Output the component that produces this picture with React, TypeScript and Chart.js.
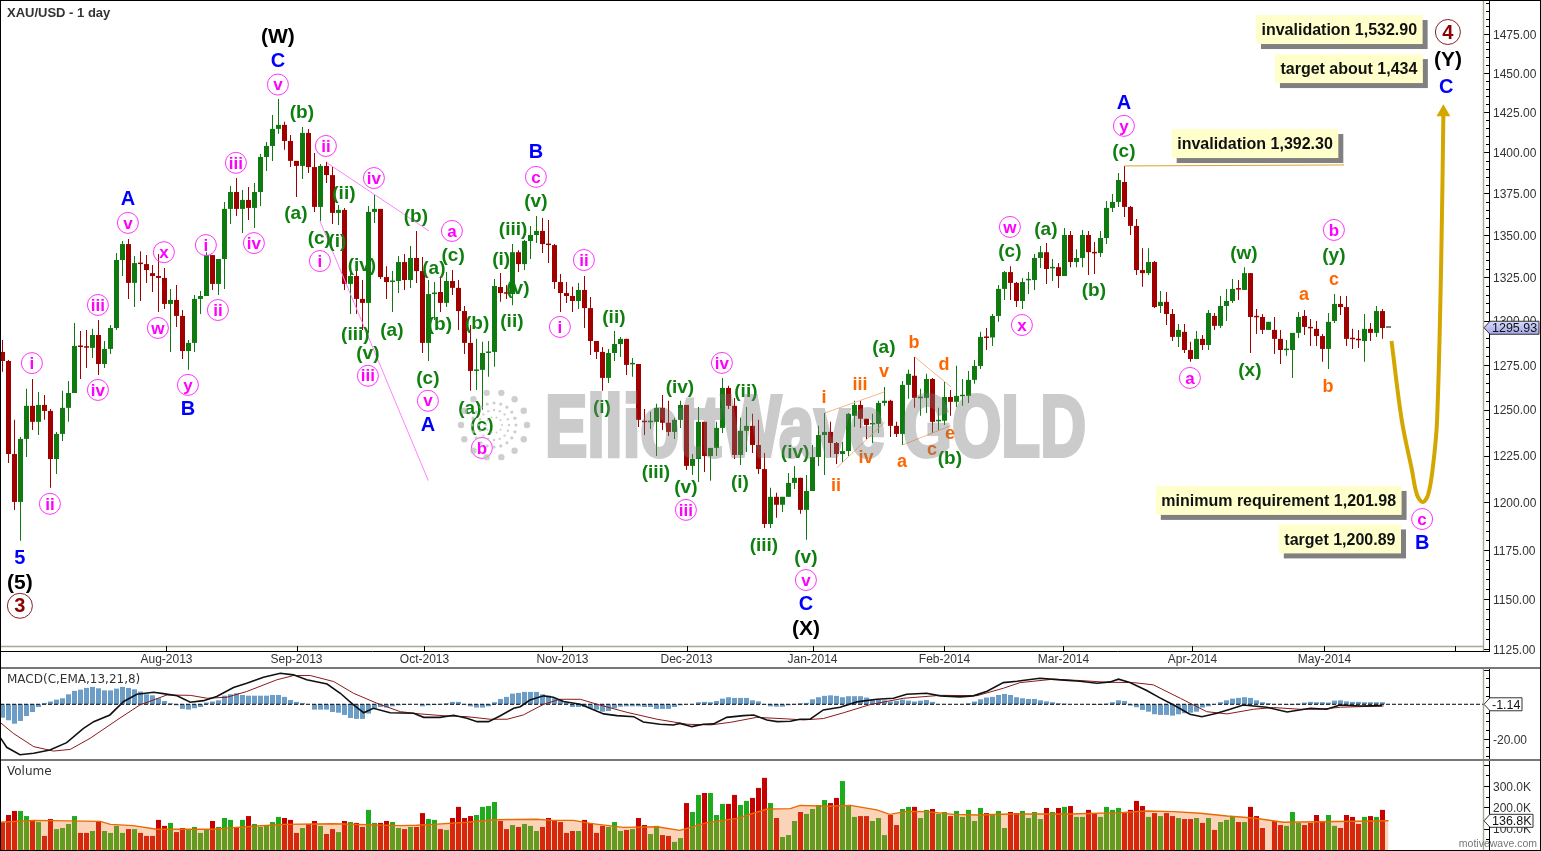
import React, { useEffect, useRef } from "react";
import { Chart, registerables } from "chart.js";

Chart.register(...registerables);

// ---- Price data (XAU/USD daily) ----
const opens = [
  1282.2,1277.1,1225.8,1200.2,1234,1252.1,1243.3,1252.6,1249.3,1223.1,
  1236.7,1251,1259.2,1285.6,1285,1284.5,1291.8,1275.4,1283.9,1295.8,
  1335.2,1344.6,1321.8,1333.4,1332.8,1327.5,1325.8,1324.7,1309.6,1311.9,
  1302.7,1282.7,1287.3,1312.5,1314.2,1338.1,1321.2,1335.8,1365.6,1375.8,
  1365.6,1371,1366.2,1375.8,1397.2,1404,1414.6,1417.1,1407.1,1394.8,
  1391.7,1412.1,1391,1366.8,1391.7,1386.1,1363.2,1365,1321.2,1325.8,
  1312.5,1310.2,1363.8,1365.6,1325.2,1322.3,1322.9,1334,1323.5,1336.4,
  1328.7,1287.3,1315.3,1316.5,1310.2,1322.9,1318.9,1305.5,1287.3,1271.5,
  1272.1,1281.6,1282.2,1319.4,1315.9,1315.3,1339.8,1332.8,1346.4,1350,
  1352.4,1344.6,1344,1322.3,1315.9,1314.2,1311.3,1317.7,1307.2,1288.4,
  1282.2,1267.6,1281.6,1286.7,1289.6,1275.2,1275.4,1243.5,1243.1,1243.3,
  1251,1242.8,1237.8,1244.4,1252.6,1219.4,1223.1,1243.3,1224.7,1229.1,
  1240,1262,1252.1,1225.3,1238.4,1241.1,1230.7,1217.7,1188.6,1202.9,
  1198.7,1202.9,1210.3,1213,1196,1206,1224.2,1236.1,1237.8,1231.8,
  1225.8,1227.4,1246.6,1252.6,1245,1241.9,1242.2,1253.7,1254.9,1241.1,
  1236.7,1263.7,1268.8,1256.3,1256.5,1267,1243.6,1243.9,1257,1254.3,
  1257.4,1257.6,1266.5,1274.3,1290.7,1290.4,1302.7,1318.3,1328.1,1321.8,
  1311.3,1323.3,1323.5,1336.4,1339.8,1330.3,1331,1325.8,1350,1334,
  1336.4,1350,1339.5,1339.3,1348.2,1366.2,1369.8,1381.9,1366.8,1355.4,
  1329.3,1327.5,1334,1308.4,1310.8,1303.8,1290.7,1293.6,1283.3,1278.2,
  1289.6,1286.1,1302.7,1297,1308.4,1311.3,1318.3,1317.7,1327.5,1302.3,
  1302.1,1294.7,1294.7,1289.6,1283.2,1283.3,1293,1302.7,1296,1295.3,
  1291.2,1283.9,1299.8,1309.6,1307.8,1289.8,1289.2,1288.4,1295.3,1293,
  1305.5,1295.93,
];
const closes = [
  1277.1,1225.8,1200.2,1234,1252.1,1243.3,1252.6,1249.3,1223.1,1236.7,
  1251,1259.2,1285.6,1285,1284.6,1291.8,1275.4,1283.9,1295.8,1335.2,
  1344.6,1321.8,1333.4,1332.8,1329.3,1325.8,1324.7,1309.6,1311.9,1302.7,
  1282.7,1287.3,1312.5,1314.2,1338.1,1321.2,1335.8,1365.6,1375.8,1365.6,
  1371,1366.2,1375.8,1397.2,1404,1414.6,1417.1,1407.1,1394.8,1391.7,
  1412.1,1391,1366.8,1391.7,1386.1,1363.2,1365,1321.2,1325.8,1312.5,
  1310.2,1363.8,1365.6,1325.2,1322.3,1322.9,1334,1323.5,1336.4,1328.7,
  1287.3,1315.3,1315.9,1310.2,1322.9,1318.9,1305.5,1287.3,1271.5,1272.1,
  1281.6,1282.2,1320,1315.9,1315.5,1339.8,1332.8,1346.4,1350,1352.4,
  1344.6,1344,1322.3,1315.9,1314.2,1311.3,1317.7,1307.2,1288.4,1282.2,
  1267.6,1281.6,1286.7,1289.6,1274.9,1275.6,1244.4,1243.1,1243.5,1251,
  1242.8,1237.8,1244.4,1252.6,1219.4,1223.1,1243.3,1224.7,1229.1,1240,
  1262,1252.1,1225.3,1238.4,1241.1,1230.7,1217.7,1188.6,1202.9,1198.7,
  1202.9,1210.3,1213,1196,1206,1224.2,1236.1,1237.8,1231.8,1225.8,
  1227.4,1247.7,1252.6,1245,1241.6,1242.3,1253.7,1254.9,1241.1,1236.7,
  1263.7,1269.9,1256.5,1256.7,1267,1243.3,1244,1257,1254.3,1257.6,
  1257.8,1266.5,1274.3,1290.7,1290.1,1302.7,1318.3,1328.1,1321.8,1311.3,
  1322.3,1323.7,1336.4,1339.8,1329.9,1330.7,1325.8,1350,1334,1336.4,
  1350,1339.8,1339.1,1348.2,1366.2,1369.8,1383.1,1366.8,1355.4,1329.3,
  1327.5,1334,1307.8,1310.8,1303.8,1290.7,1294.7,1283.3,1278.2,1289.6,
  1286.1,1304.4,1297,1308.4,1311.3,1318.3,1317.9,1327.5,1302.1,1301.9,
  1294.7,1299.3,1289.6,1283.3,1283.6,1293,1302.1,1296.4,1295.6,1291.2,
  1283.9,1299.3,1309.6,1307.8,1289.6,1289.4,1288.8,1295.3,1293,1305.5,
  1295.8,1295.93,
];
const highs = [
  1289,1277.7,1244.4,1235,1261.5,1267,1259.8,1258.1,1250.4,1237.8,
  1260.4,1265.9,1298.7,1294.1,1294.7,1295.3,1300.4,1288.4,1297.5,1339.3,
  1346.4,1347.6,1337.5,1340.4,1338.1,1332.2,1338.7,1330.5,1318.3,1320.6,
  1306.1,1289,1314.8,1317.1,1339.8,1338.1,1335.8,1369.8,1379.4,1384.3,
  1377,1378.8,1381.3,1399.1,1406.5,1423.3,1433.3,1419,1410.8,1394.8,
  1415.8,1414.6,1399.7,1392.9,1394.2,1391,1368,1366.2,1329.3,1328.7,
  1323.5,1367.4,1374,1365.6,1331.6,1328.7,1337.5,1338.7,1343.4,1352.4,
  1336.9,1323.5,1322.3,1325.2,1328.1,1329.3,1323.5,1308.4,1297.5,1289.6,
  1287.9,1288.4,1324.1,1327.5,1320.6,1344.6,1341,1347,1355.4,1361.4,
  1360.2,1359,1344.6,1327,1322.3,1319.5,1321.8,1325.8,1313.6,1288.4,
  1285,1283.9,1294.1,1290.7,1289.6,1278.8,1275.4,1250.4,1248.8,1253.2,
  1258.1,1254.9,1245.5,1254.9,1252.6,1225.8,1251.5,1243.3,1229.1,1243.3,
  1267.6,1263.2,1256.5,1245.5,1251.5,1247.7,1244.4,1226.4,1207.7,1205,
  1202.9,1215.6,1219.4,1213,1214.5,1230.7,1241.1,1248.2,1243.3,1232.3,
  1232.3,1248.2,1254.9,1254.9,1245,1247.7,1254.9,1262.6,1255.4,1243.3,
  1265.9,1272.1,1279.4,1261.5,1269.9,1267.6,1251,1265.9,1260.9,1274.4,
  1267,1271.5,1277.7,1293.6,1295.8,1303.8,1320.6,1328.7,1331.6,1322.3,
  1324.7,1328.1,1338.7,1343.4,1345.2,1335.8,1333.4,1354.2,1352.4,1341.6,
  1353,1352.4,1345.8,1352.4,1370.4,1374.6,1387.4,1391.7,1367.4,1359.6,
  1342.2,1342.2,1334.6,1317.1,1316.5,1306.7,1298.1,1298.1,1287.9,1294.1,
  1291.8,1306.1,1304.4,1314.2,1318.3,1324.1,1323.5,1331,1327.5,1306.7,
  1303.8,1299.3,1302.1,1294.7,1289,1293,1305,1306.1,1301,1299.8,
  1292.4,1304.4,1315.3,1314.2,1314.2,1295.3,1294.7,1303.8,1298.7,1308.4,
  1306.7,1295.93,
];
const lows = [
  1271,1221,1196,1179.8,1224.2,1238.9,1236.1,1244.4,1207.7,1215,
  1232.9,1243.3,1259.2,1267,1273.2,1278.8,1269.3,1273.2,1281,1294.7,
  1325.8,1312.5,1307.8,1311.3,1321.8,1316.5,1305,1306.7,1282.2,1296.4,
  1278.2,1272.1,1282.2,1303.8,1314.2,1317.7,1314.8,1318.3,1356.6,1361.4,
  1351.2,1359,1354.2,1367.4,1388.6,1394.8,1411.5,1401.6,1391,1372.8,
  1383.7,1387.4,1363.8,1358.4,1381.3,1356.6,1356,1317.7,1303.8,1303.8,
  1294.7,1293,1357.2,1324.1,1312.5,1305,1315.9,1317.7,1318.9,1321.8,
  1281.6,1277.1,1300.4,1305,1307.8,1314.8,1294.7,1281,1260.4,1260.9,
  1249.9,1268.2,1273.8,1310.8,1312.5,1308.9,1328.1,1329.3,1335.8,1345.2,
  1339.3,1333.4,1318.3,1305,1310.2,1305,1306.7,1295.8,1280.5,1278.2,
  1260.4,1264.8,1277.1,1279.4,1269.3,1268.2,1240.5,1236.1,1239.4,1224.7,
  1238.9,1235.6,1234,1240,1217.2,1214.5,1210.8,1216.1,1211.4,1224.7,
  1237.2,1250.4,1223.1,1219.9,1226.9,1226.4,1215,1186.5,1186.5,1191.8,
  1194.9,1202.9,1207.1,1193.9,1180.3,1206,1219.4,1214.5,1224.2,1220.4,
  1221.5,1224.7,1240.5,1240,1233.4,1231.8,1237.2,1252.1,1235,1235,
  1230.7,1256,1251,1246.6,1248.2,1237.2,1238.9,1241.6,1246.6,1251.5,
  1252.1,1253.7,1264.3,1272.6,1283.3,1285.6,1299.3,1311.9,1311.9,1307.8,
  1306.7,1315.3,1317.7,1330.5,1321.2,1322.9,1318.9,1325.8,1331,1331,
  1331,1326.4,1327,1336.9,1344.6,1363.8,1366.8,1360.8,1350,1326.4,
  1319.5,1326.4,1307.2,1304.4,1297.5,1288.4,1285,1281.6,1276.6,1278.2,
  1283.3,1283.3,1294.7,1295.8,1299.8,1310.2,1311.9,1317.7,1281.6,1292.4,
  1292.4,1294.7,1281,1275.4,1280,1267.6,1290.1,1291.8,1285.6,1285.6,
  1276.6,1272.6,1298.7,1303.2,1285.6,1283.9,1284.4,1276.6,1288.4,1290.7,
  1289.6,1295.93,
];

const monthIndex = [27.33, 49, 70.33, 93.33, 114, 135, 157, 176.83, 198.33, 220.33, 242];
const monthLabels = ["Aug-2013","Sep-2013","Oct-2013","Nov-2013","Dec-2013","Jan-2014","Feb-2014","Mar-2014","Apr-2014","May-2014",""];

// ---- MACD ----
const macdHist = [
  -7.8,-9.3,-11.3,-9.7,-6.8,-4.5,-1.6,0.8,1.6,2.7,
  3.5,5.8,7.8,8.5,9.5,10.1,9.3,8.1,8.1,9.1,
  10.1,9.5,8.7,7.4,5.8,5.2,3.5,1.9,0.6,-0.6,
  -2.7,-3.1,-2.3,-1.6,1,1.6,2.3,5,5.8,6.4,
  5.4,5,5,5,5,5.4,5.4,4.3,2.5,1.4,
  0.8,0,-3.1,-3.1,-3.1,-4.5,-4.9,-6.2,-8,-8.5,
  -8.5,-5.4,-2.3,-1.6,-1.9,-1.2,-0.6,-0.2,0,0,
  -1.2,-0.6,-0.4,0.2,0.6,1.4,1.4,0.2,-1.2,-1.9,
  -1.9,-1.2,1.2,3.1,4.3,6.2,6.6,7.2,7.2,7.2,
  5.8,5,3.5,2.7,1.2,-1.6,-1.6,-1.6,-2.3,-3.1,
  -4.3,-3.9,-2.3,-1.4,-1.2,-1.2,-1.2,-1.6,-1.6,-2.7,
  -2.7,-2.7,-1.6,-0.6,0,0,1.2,1.4,1.2,1.9,
  3.3,4.1,3.7,3.7,3.7,2.3,1.7,-0.2,-1.2,-1.4,
  -1.4,-0.6,0.2,0.6,0.8,2.9,4.1,4.9,5.2,4.9,
  4.1,4.7,4.7,4.7,3.9,2.9,2.7,2.3,1.6,1.9,
  2.7,2.1,1.6,2.1,2.5,1.4,0,0,0,0,
  0,0.6,1.6,2.9,3.9,4.3,5.4,6,5.4,4.1,
  3.5,3.1,3.1,2.3,1.7,1.2,0.6,0.4,0,0,
  0,0,-0.4,-0.4,0.4,1.2,2.3,1.9,-0.8,-1.7,
  -3.3,-4.3,-5.8,-6.2,-6.2,-6.6,-5.8,-5.2,-4.9,-4.3,
  -1.9,-1.2,0,1.2,2.3,3.3,3.7,4.1,3.7,2.3,
  1.2,0.6,0.2,0,-0.4,-0.4,0.4,1,1.4,1.2,
  1.2,1,2.1,2.3,1.7,1.4,1.4,1.2,1.2,1.2,
  1.2,
];
const macdIdx = [-0.4,0.7,2.9,5.2,7.9,10.7,13.5,15.2,17.9,20.2,22.4,25.2,26.8,29.1,31.3,33.5,35.7,38.5,40.7,43.5,46.3,48.5,50.7,54.1,56.3,58.5,60.2,61.8,64.6,68.5,70.2,72.9,75.2,77.4,79.1,81,82.9,85.2,86.3,87.9,90.2,91.8,93.5,96.3,97.9,100.2,102.4,105.2,106.8,109.6,111.8,112.9,114.9,116.8,118.5,120.7,123.5,125.2,127.4,129.1,131.3,132.9,134.6,136.8,139.6,142.4,145.7,148.5,150.7,154,156.3,159.6,161.8,164.1,166.8,169.1,170,172.9,176.3,179.6,182.4,184.6,186,187.9,190.7,192.9,195.2,197.9,199.9,202.4,204.6,206.8,210.7,214.1,218,220.7,222.9,226.3,229.9];
const macdVal = [-19.2,-25,-29.3,-28.5,-26.6,-22.3,-14,-10.1,-6.2,1.6,5.8,7,6.2,5,1.2,2.1,4.5,9.7,12.2,15.7,18,17.1,14.2,11.8,6.4,-0.4,-4.9,-2.3,-4.9,-5.2,-7.6,-7.6,-6.4,-8.1,-10.1,-10.1,-6.8,-2.3,-1.4,2.5,4.9,4.1,1.6,0,-2.3,-5.6,-6.6,-7.2,-10.3,-11.6,-12,-11.1,-13,-11.6,-11.4,-7.6,-6.6,-6.2,-9.1,-10.1,-9.9,-8.7,-8.7,-3.3,-1.7,1.4,2.9,3.5,5.8,6.4,4.9,4.3,4.9,7.6,12.6,13.4,13.8,15.1,14.2,13.4,12.2,13,14.6,12.6,8,3.7,-0.4,-5.8,-7.2,-5.2,-2.9,-0.4,-1.7,-4.5,-2.3,-2.9,-0.4,-1,-0.8];
const signalIdx = [-0.4,1.8,5.2,8.5,11.3,14.6,19.1,22.9,27.4,31.3,34.1,37.4,40.7,45.7,48.5,51.3,55.2,58.5,62.4,66.3,69.6,74.1,77.4,81.3,84.1,86.8,90.2,92.9,96.3,99.1,104.1,109.1,114.1,118,121.3,125.7,130.7,133.5,136.8,140.2,144.6,150.2,156.3,162.4,166.8,169.6,175.2,179.6,184.1,188.5,191.8,196.3,200.7,204.1,208.5,211.8,216.3,219.6,223,230.2];
const signalVal = [-10.5,-16.9,-24.6,-27.2,-26.2,-19.8,-9.1,-0.4,5.4,5.2,3.5,4.1,7.4,14.2,16.7,16.7,13.2,6.4,0.6,-4.3,-5.6,-6.8,-7.2,-8.7,-8.7,-6.2,0,2.9,2.9,0,-4.7,-8.7,-11.6,-12,-10.5,-7.6,-8.5,-9.1,-8.3,-4.9,-0.2,3.5,5.2,5,9.3,12.6,14.6,13.8,12.8,12.6,11.3,3.5,-4.3,-5.6,-2.9,-1.9,-2.9,-2.9,-1.7,-1];

// ---- Volume (thousands) ----
const volumes = [
  130,164,183,183,159,136,131,66,145,98,
  103,122,159,80,80,89,134,89,80,113,
  80,98,98,80,66,66,141,113,127,84,
  103,94,108,80,94,136,108,150,141,108,
  141,159,122,108,113,131,155,150,141,80,
  103,122,136,113,75,98,84,136,131,127,
  108,188,127,127,136,131,103,98,108,108,
  173,145,141,98,94,150,202,150,159,164,
  202,206,225,136,98,117,108,122,113,89,
  108,150,136,131,80,89,89,141,127,80,
  113,108,131,89,94,98,150,117,75,113,
  70,66,38,56,220,178,258,267,267,164,
  216,216,258,211,230,244,291,338,220,150,
  61,70,136,178,169,192,211,234,220,244,
  323,211,155,159,159,136,150,70,164,117,
  192,202,202,150,188,192,169,178,159,183,
  155,188,136,197,173,164,183,103,178,173,
  183,150,178,145,197,178,197,202,206,155,
  155,188,169,155,202,188,197,173,188,230,
  206,155,173,159,173,159,150,145,145,150,
  127,150,94,131,141,159,131,131,202,159,
  103,0,136,117,113,178,127,117,127,164,
  136,164,113,103,164,155,122,155,159,155,
  188,
];
const volMaIdx = [-0.4,5.2,16.3,18,21.8,25.7,35.2,38.5,41.8,46.8,55.2,66.3,69,71.8,77.4,81.8,89,91.8,95.2,97.9,103.5,109.1,112.9,117.4,122.4,127.4,131.3,132.9,137.4,141.3,145.7,147.9,150.7,154,158.5,162.4,168,177.9,186.3,190.7,195.2,199.6,204.1,208.5,213.5,231];
const volMaVal = [130,139,134,120,114,97,97,105,111,120,123,114,116,120,130,142,144,139,139,125,106,109,92,128,148,192,194,209,205,209,188,167,181,180,167,164,169,169,175,183,180,172,159,150,130,136.8];

// ---- Annotations: text, kind, bar index, price ----
const waveLabels: [string, string, number, number][] = [
  ["(W)","k",45.9,1473.7],["C","b",45.9,1458.2],["v","p",45.9,1442.5],
  ["A","b",20.9,1371.6],["v","p",20.9,1357.2],["x","p",26.9,1339.8],["iii","p",15.9,1309],["w","p",25.9,1295.8],
  ["i","p",33.9,1344],["ii","p",35.9,1306.1],["iii","p",38.9,1393.6],["iv","p",41.9,1345.2],
  ["(b)","g",49.9,1425.2],["ii","p",53.9,1404],["(a)","g",48.9,1363.2],["(ii)","g",56.9,1375.2],["iv","p",61.9,1384.3],
  ["(c)","g",52.8,1348.2],["(i)","g",55.8,1346.4],["i","p",52.9,1334.6],["(b)","g",68.9,1361.4],["a","p",74.9,1352.4],
  ["(c)","g",75.1,1338.1],["(a)","g",71.9,1330.5],["(iv)","g",59.9,1332.2],["(iii)","g",58.8,1292.4],["(a)","g",64.9,1294.7],
  ["(b)","g",72.9,1298.1],["(b)","g",79.1,1298.7],["(i)","g",83.1,1335.8],["(a)","g",77.9,1251],["(c)","g",79.9,1241.6],["b","p",79.9,1229.1],
  ["(c)","g",70.9,1267.6],["v","p",70.9,1254.9],["A","b",70.9,1241.6],["(v)","g",60.9,1281.6],["iii","p",60.9,1268.8],
  ["y","p",30.9,1263.7],["B","b",30.9,1250.4],["i","p",4.9,1275.9],["iv","p",15.9,1260.9],["ii","p",7.9,1199.2],
  ["5","b",2.9,1171.4],["(5)","k",2.9,1158.6],["3","m",2.9,1146.5],
  ["(ii)","g",84.9,1299.8],["(v)","g",85.9,1318.9],["(iii)","g",85.1,1353.6],["(v)","g",88.9,1370.4],["c","p",88.9,1385],["B","b",88.9,1400.4],
  ["ii","p",96.9,1335.2],["i","p",92.9,1296.4],["(ii)","g",101.9,1302.1],["(i)","g",99.9,1251.5],["iv","p",119.9,1276],
  ["(iv)","g",112.9,1262.6],["(ii)","g",123.9,1260.4],["(a)","g",146.9,1285],["b","o",151.9,1287.9],["v","o",146.9,1271.5],
  ["d","o",156.9,1275.4],["iii","o",142.9,1264.3],["i","o",136.9,1257],["(iii)","g",108.9,1216.1],["(v)","g",113.9,1208.2],["iii","p",113.9,1196],
  ["(i)","g",122.9,1210.8],["(iii)","g",126.9,1177.7],["(v)","g",133.9,1171.4],["v","p",133.9,1159.6],["C","b",133.9,1147.5],["(X)","k",133.9,1135.4],
  ["(iv)","g",132.1,1226.9],["ii","o",138.9,1209.2],["iv","o",143.9,1224.2],["a","o",149.9,1222],["c","o",154.9,1228.5],["e","o",157.9,1237.2],["(b)","g",157.9,1223.7],
  ["A","b",186.9,1431.4],["y","p",186.9,1416.5],["(c)","g",186.9,1401],["w","p",167.9,1354.8],["(c)","g",167.9,1340.4],["(a)","g",173.9,1353.6],
  ["(b)","g",181.9,1317.7],["x","p",169.9,1297.5],["a","p",197.9,1267.6],["(w)","g",206.9,1339.3],["(x)","g",207.9,1272.1],
  ["b","p",221.9,1353],["(y)","g",221.9,1338.1],["c","o",221.9,1324.1],["a","o",216.9,1315.3],["b","o",220.9,1263.2],
  ["4","m",240.9,1476.3],["(Y)","k",240.9,1458.8],["C","b",240.6,1441],["c","p",236.6,1191.2],["B","b",236.6,1178.7],
];
const callouts: [string, number, number][] = [
  ["invalidation 1,532.90",222.8,1477.9],
  ["target about 1,434",224.4,1452.7],
  ["invalidation 1,392.30",208.75,1405.5],
  ["minimum requirement 1,201.98",212.7,1201],
  ["target 1,200.89",222.9,1180.8],
];
const trendLines: [number, number, number, number, string][] = [
  [54.08,1393.6,71.08,1352.4,"#ff80ff"],
  [52.9,1358.4,70.97,1211.5,"#ff80ff"],
  [137.08,1248.2,146.97,1259.8,"#f8b48a"],
  [139.03,1218.3,147.08,1243.3,"#f8b48a"],
  [152.03,1279.4,158.08,1262.6,"#f8b48a"],
  [150.03,1230.7,158.03,1241.2,"#f8b48a"],
  [187,1391.7,223.6,1392.3,"#d8a520"],
];
const forecastIdx = [231.5,233.2,234.9,235.75,236.7,237.6,238.4,239.1,239.8,240.15];
const forecastVal = [1288.4,1244.4,1217.2,1204,1200,1204,1218.8,1244.4,1337.5,1425];
const lastClose = 1295.93;
const lastMacdText = "-1.14";
const lastVolText = "136.8K";
const lastVol = 136.8;

// ---- Layout constants ----
const SANS = '"Liberation Sans", Arial, sans-serif';
const WIDTH = 1541;
const AXIS_X = 1489;
const GRAY_X = 1483.5;
const X_MIN = -2.5 / 6;
const X_MAX = (AXIS_X - 2.5) / 6;
const PRICE_TOP = 1496.6;
const PRICE_BOTTOM = 1123.9;
const GREEN = "#0f7a0f";
const RED = "#a00000";
const styles: Record<string, { color: string; font: number; ring?: number }> = {
  p: { color: "#ff00ff", font: 17, ring: 10.5 },
  g: { color: "#0f7f0f", font: 19 },
  b: { color: "#0000ff", font: 20 },
  k: { color: "#000000", font: 21 },
  o: { color: "#ff6600", font: 18 },
  m: { color: "#8b0000", font: 20, ring: 12.5 },
};

const range = (start: number, stop: number, step: number) => {
  const out: number[] = [];
  for (let v = start; v <= stop; v += step) out.push(v);
  return out;
};
const pairs = (xs: number[], ys: number[]) => xs.map((x, i) => ({ x, y: ys[i] }));

function hiddenX() {
  return { type: "linear", min: X_MIN, max: X_MAX, offset: false, display: false, grid: { display: false, drawTicks: false } };
}
function yAxisBase(ticks: number[], label: (v: number) => string) {
  return {
    position: "right",
    grid: { display: false, drawTicks: false },
    border: { display: true, color: "#000", width: 1 },
    afterFit: (s: any) => { s.width = WIDTH - AXIS_X; s.paddingTop = 0; s.paddingBottom = 0; },
    afterBuildTicks: (s: any) => { s.ticks = ticks.map((value) => ({ value })); },
    ticks: { autoSkip: false, padding: 4, labelOffset: 1.5, color: "#333", font: { size: 12, family: SANS }, callback: (v: any) => label(Number(v)) },
  };
}
function drawYTicks(chart: any, isMajor: (v: number) => boolean) {
  const { ctx, chartArea, scales } = chart;
  ctx.save();
  ctx.strokeStyle = "#000";
  ctx.lineWidth = 1;
  ctx.beginPath();
  for (const t of scales.y.ticks) {
    const y = Math.round(scales.y.getPixelForValue(t.value)) + 0.5;
    ctx.moveTo(AXIS_X, y);
    ctx.lineTo(AXIS_X - (isMajor(t.value) ? 6 : 3), y);
  }
  ctx.stroke();
  ctx.strokeStyle = "#a8a898";
  ctx.lineWidth = 1.4;
  ctx.beginPath();
  ctx.moveTo(GRAY_X, chartArea.top);
  ctx.lineTo(GRAY_X, chartArea.bottom);
  ctx.stroke();
  ctx.restore();
}
function drawTag(ctx: any, y: number, right: number, text: string, fill: any) {
  const x0 = 1484;
  const h = 6.5;
  ctx.save();
  ctx.beginPath();
  ctx.moveTo(x0, y);
  ctx.lineTo(x0 + 6, y - h);
  ctx.lineTo(right, y - h);
  ctx.lineTo(right, y + h);
  ctx.lineTo(x0 + 6, y + h);
  ctx.closePath();
  ctx.fillStyle = fill;
  ctx.fill();
  ctx.strokeStyle = "#333";
  ctx.lineWidth = 1;
  ctx.stroke();
  ctx.fillStyle = "#111";
  ctx.font = `12.5px ${SANS}`;
  ctx.textAlign = "left";
  ctx.textBaseline = "middle";
  ctx.fillText(text, x0 + 8, y + 1);
  ctx.restore();
}
function drawWatermark(ctx: any) {
  const layer = document.createElement("canvas");
  layer.width = 700;
  layer.height = 120;
  const c = layer.getContext("2d") as any;
  c.font = `bold 88px ${SANS}`;
  c.textAlign = "left";
  c.textBaseline = "alphabetic";
  c.fillStyle = "#787878";
  c.strokeStyle = "#787878";
  c.lineWidth = 4;
  c.lineJoin = "miter";
  c.fillText("ElliottWave GOLD", 10, 90, 541);
  c.strokeText("ElliottWave GOLD", 10, 90, 541);
  ctx.save();
  ctx.globalAlpha = 0.38;
  ctx.drawImage(layer, 535, 366);
  ctx.globalAlpha = 1;
  const cx = 494;
  const cy = 425;
  const rings: [number, number, number][] = [[33, 14, 3.2], [22, 20, 1.6], [15, 16, 1.2], [8, 10, 1]];
  ctx.fillStyle = "rgba(190,190,190,0.75)";
  for (const [r, n, d] of rings) {
    for (let k = 0; k < n; k++) {
      const a = (k / n) * Math.PI * 2;
      ctx.beginPath();
      ctx.arc(cx + r * Math.cos(a), cy + r * Math.sin(a), d, 0, Math.PI * 2);
      ctx.fill();
    }
  }
  ctx.restore();
}

const pricePlugin = {
  id: "priceDecor",
  afterDatasetsDraw(chart: any) {
    const { ctx, scales } = chart;
    const sx = scales.x;
    const sy = scales.y;
    ctx.save();
    // axis furniture
    ctx.strokeStyle = "#a8a898";
    ctx.lineWidth = 1.4;
    ctx.beginPath();
    ctx.moveTo(0, 646.5);
    ctx.lineTo(GRAY_X, 646.5);
    ctx.stroke();
    ctx.strokeStyle = "#000";
    ctx.lineWidth = 1;
    ctx.beginPath();
    for (const m of monthIndex) {
      const x = Math.round(sx.getPixelForValue(m)) + 0.5;
      ctx.moveTo(x, 646);
      ctx.lineTo(x, 651);
    }
    ctx.stroke();
    ctx.restore();
    drawYTicks(chart, (v) => v % 25 === 0);
    ctx.save();
    // wave labels
    ctx.textAlign = "center";
    ctx.textBaseline = "middle";
    for (const [text, kind, bar, price] of waveLabels) {
      const st = styles[kind];
      const x = sx.getPixelForValue(bar);
      const y = sy.getPixelForValue(price);
      ctx.font = `bold ${st.font}px ${SANS}`;
      ctx.fillStyle = st.color;
      ctx.fillText(text, x, y + 1);
      if (st.ring) {
        ctx.beginPath();
        ctx.arc(x, y, st.ring, 0, Math.PI * 2);
        ctx.strokeStyle = kind === "p" ? "#ff33ff" : "#8b2020";
        ctx.lineWidth = 1;
        ctx.stroke();
      }
    }
    // yellow notes
    ctx.font = `bold 16px ${SANS}`;
    for (const [text, bar, price] of callouts) {
      const x = sx.getPixelForValue(bar);
      const y = sy.getPixelForValue(price);
      const w = ctx.measureText(text).width + 11;
      const h = 29;
      ctx.fillStyle = "#808080";
      ctx.fillRect(x - w / 2 + 5, y - h / 2 + 5, w, h);
      ctx.fillStyle = "#ffffcc";
      ctx.fillRect(x - w / 2, y - h / 2, w, h);
      ctx.fillStyle = "#111";
      ctx.fillText(text, x, y + 1.5);
    }
    ctx.restore();
    drawWatermark(ctx);
    // title and last-price tag
    ctx.save();
    ctx.font = `bold 13px ${SANS}`;
    ctx.fillStyle = "#333";
    ctx.textAlign = "left";
    ctx.textBaseline = "middle";
    ctx.fillText("XAU/USD - 1 day", 7, 13);
    ctx.restore();
    const grad = ctx.createLinearGradient(0, 322, 0, 336);
    grad.addColorStop(0, "#d4d8fa");
    grad.addColorStop(1, "#9aa0e6");
    drawTag(ctx, sy.getPixelForValue(lastClose), 1539, lastClose.toFixed(2), grad);
  },
};
const macdPlugin = {
  id: "macdDecor",
  afterDatasetsDraw(chart: any) {
    const { ctx, scales } = chart;
    drawYTicks(chart, (v) => v === -20 || v === 20);
    ctx.save();
    ctx.font = '12px "DejaVu Sans"';
    ctx.fillStyle = "#333";
    ctx.textAlign = "left";
    ctx.textBaseline = "middle";
    ctx.fillText("MACD(C,EMA,13,21,8)", 7, 11);
    ctx.restore();
    drawTag(ctx, scales.y.getPixelForValue(0), 1522, lastMacdText, "#fff");
  },
};
const volPlugin = {
  id: "volDecor",
  afterDatasetsDraw(chart: any) {
    const { ctx, scales } = chart;
    drawYTicks(chart, (v) => v % 100 === 0);
    ctx.save();
    ctx.font = '12px "DejaVu Sans"';
    ctx.fillStyle = "#333";
    ctx.textAlign = "left";
    ctx.textBaseline = "middle";
    ctx.fillText("Volume", 7, 11);
    ctx.restore();
    drawTag(ctx, scales.y.getPixelForValue(lastVol), 1533, lastVolText, "#fff");
    ctx.save();
    ctx.font = `10.5px ${SANS}`;
    ctx.fillStyle = "#777";
    ctx.textAlign = "right";
    ctx.textBaseline = "middle";
    ctx.fillText("motivewave.com", 1537, 83);
    ctx.restore();
  },
};
const base: any = {
  responsive: false,
  animation: false,
  devicePixelRatio: 1,
  events: [],
  plugins: { legend: { display: false }, tooltip: { enabled: false }, title: { display: false } },
};

export default function App() {
  const priceRef = useRef<HTMLCanvasElement>(null);
  const macdRef = useRef<HTMLCanvasElement>(null);
  const volRef = useRef<HTMLCanvasElement>(null);

  useEffect(() => {
    const candleColor = opens.map((o, i) => (closes[i] === o ? "#555555" : closes[i] > o ? GREEN : RED));
    const priceChart = new Chart(priceRef.current as any, {
      type: "bar",
      data: {
        datasets: [
          {
            type: "bar",
            data: opens.map((o, i) => ({ x: i, y: [Math.min(o, closes[i]), Math.max(o, closes[i])] })),
            backgroundColor: candleColor,
            barThickness: 5,
            minBarLength: 1.5,
            grouped: false,
            inflateAmount: 0,
            order: 5,
          },
          {
            type: "bar",
            data: opens.map((_, i) => ({ x: i, y: [lows[i], highs[i]] })),
            backgroundColor: candleColor,
            barThickness: 1,
            grouped: false,
            inflateAmount: 0,
            order: 6,
          },
          ...trendLines.map(([i1, p1, i2, p2, color]) => ({
            type: "line",
            data: [{ x: i1, y: p1 }, { x: i2, y: p2 }],
            borderColor: color,
            borderWidth: 1,
            pointRadius: 0,
            fill: false,
            order: 2,
          })),
          {
            type: "line",
            data: pairs(forecastIdx, forecastVal),
            borderColor: "#d4a600",
            backgroundColor: "#d4a600",
            borderWidth: 4,
            tension: 0.35,
            pointRadius: forecastIdx.map((_, i) => (i === forecastIdx.length - 1 ? 8 : 0)),
            pointStyle: "triangle",
            pointBorderWidth: 0,
            fill: false,
            order: 1,
          },
        ],
      } as any,
      options: {
        ...base,
        layout: { autoPadding: false, padding: { top: 1 } },
        scales: {
          x: {
            type: "linear",
            min: X_MIN,
            max: X_MAX,
            offset: false,
            grid: { display: false, drawTicks: false },
            border: { display: true, color: "#000", width: 1 },
            afterFit: (s: any) => { s.height = 17; s.paddingLeft = 0; s.paddingRight = 0; },
            afterBuildTicks: (s: any) => { s.ticks = monthIndex.map((value) => ({ value })); },
            ticks: {
              autoSkip: false,
              maxRotation: 0,
              padding: 1,
              color: "#333",
              font: { size: 12, family: SANS },
              callback: (_: any, i: number) => monthLabels[i],
            },
          },
          y: {
            type: "logarithmic",
            min: PRICE_BOTTOM,
            max: PRICE_TOP,
            ...yAxisBase(range(1125, 1495, 5), (v) => (v % 25 === 0 ? v.toFixed(2) : "")),
          },
        },
      },
      plugins: [pricePlugin],
    } as any);

    const macdChart = new Chart(macdRef.current as any, {
      type: "bar",
      data: {
        datasets: [
          {
            type: "bar",
            data: macdHist.map((y, x) => ({ x, y })),
            backgroundColor: "#6c9dc6",
            barThickness: 5,
            grouped: false,
            inflateAmount: 0,
            order: 5,
          },
          {
            type: "line",
            data: [{ x: X_MIN, y: 0 }, { x: (GRAY_X - 2.5) / 6, y: 0 }],
            borderColor: "#000",
            borderWidth: 1,
            borderDash: [4, 2],
            pointRadius: 0,
            order: 3,
          },
          {
            type: "line",
            data: pairs(signalIdx, signalVal),
            borderColor: "#8b1a1a",
            borderWidth: 1,
            pointRadius: 0,
            order: 2,
          },
          {
            type: "line",
            data: pairs(macdIdx, macdVal),
            borderColor: "#111",
            borderWidth: 1.6,
            pointRadius: 0,
            order: 1,
          },
        ],
      } as any,
      options: {
        ...base,
        layout: { autoPadding: false, padding: 0 },
        scales: {
          x: hiddenX(),
          y: {
            type: "linear",
            min: -31.8,
            max: 20.5,
            ...yAxisBase(range(-30, 20, 5), (v) => (v === -20 ? "-20.00" : "")),
          },
        },
      },
      plugins: [macdPlugin],
    } as any);

    const volChart = new Chart(volRef.current as any, {
      type: "bar",
      data: {
        datasets: [
          {
            type: "bar",
            data: volumes.map((y, x) => ({ x, y })),
            backgroundColor: opens.slice(0, volumes.length).map((o, i) => (closes[i] >= o ? "#1eac1e" : "#c80000")),
            barThickness: 5,
            grouped: false,
            inflateAmount: 0,
            order: 5,
          },
          {
            type: "line",
            data: pairs(volMaIdx, volMaVal),
            borderColor: "#e86a00",
            borderWidth: 1.4,
            backgroundColor: "rgba(240,120,40,0.33)",
            fill: "origin",
            pointRadius: 0,
            order: 1,
          },
        ],
      } as any,
      options: {
        ...base,
        layout: { autoPadding: false, padding: 0 },
        scales: {
          x: hiddenX(),
          y: {
            type: "linear",
            min: 0,
            max: 417,
            ...yAxisBase(range(0, 400, 50), (v) => (v > 0 && v % 100 === 0 && v < 400 ? `${v}.0K` : "")),
          },
        },
      },
      plugins: [volPlugin],
    } as any);

    return () => {
      priceChart.destroy();
      macdChart.destroy();
      volChart.destroy();
    };
  }, []);

  const abs = (top: number, height: number, color?: string): React.CSSProperties => ({
    position: "absolute",
    left: 0,
    top,
    width: WIDTH,
    height,
    background: color,
    display: "block",
  });
  return (
    <div style={{ position: "fixed", left: 0, top: 0, width: WIDTH, height: 851, background: "#fff", overflow: "hidden" }}>
      <canvas ref={priceRef} width={WIDTH} height={668} style={abs(0, 668)} />
      <div style={abs(667, 2, "#777")} />
      <canvas ref={macdRef} width={WIDTH} height={90} style={abs(669, 90)} />
      <div style={abs(759, 2, "#777")} />
      <canvas ref={volRef} width={WIDTH} height={89} style={abs(761, 89)} />
      <div style={{ position: "absolute", left: 0, top: 0, width: WIDTH, height: 851, boxSizing: "border-box", border: "1px solid #000", pointerEvents: "none" }} />
    </div>
  );
}
